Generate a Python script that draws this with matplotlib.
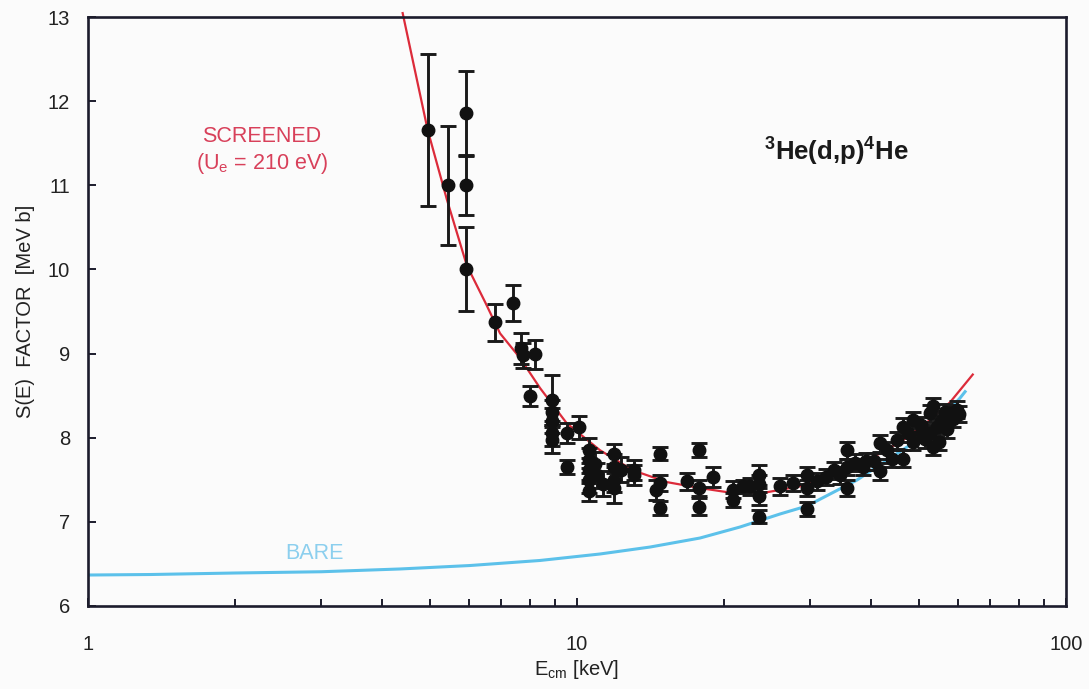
import matplotlib
matplotlib.use("Agg")
import matplotlib.pyplot as plt
from matplotlib.ticker import FixedLocator, NullFormatter

plt.rcParams['font.family'] = ['Liberation Sans', 'DejaVu Sans']

# ---- data ----
energy = [4.95, 5.44, 5.93, 5.93, 5.93, 6.80, 7.41, 7.70, 7.75, 8.21, 8.01,
          8.88, 8.88, 8.88, 8.88, 8.88, 9.53, 10.1, 9.53,
          10.6, 10.6, 10.6, 10.6, 10.6, 11.9, 11.9, 11.9, 11.9,
          13.1, 13.1, 14.5, 14.8, 14.8, 14.8, 16.8, 17.8, 17.8, 17.8,
          19.0, 20.8, 20.8, 21.8, 22.6, 23.6, 23.6, 23.6, 23.6,
          26.0, 27.7, 29.5, 29.5, 29.5, 32.3, 33.5, 35.6, 35.6, 35.6,
          38.5, 39.0, 41.6, 41.6, 44.0, 45.1, 46.4, 46.4, 48.6, 48.6,
          50.5, 52.7, 52.7, 53.5, 53.5, 55.5, 57.8, 59.8, 57.0,
          50.5, 51.5, 54.5, 56.5, 58.8, 60.5, 55.0, 47.5, 43.0, 40.5,
          37.0, 31.0, 34.5, 11.0, 11.3, 12.3, 10.9]
s_factor = [11.66, 11.00, 11.86, 11.00, 10.00, 9.37, 9.60, 9.06, 8.98, 8.99, 8.49,
            8.45, 8.30, 8.20, 8.05, 7.97, 8.05, 8.12, 7.65,
            7.85, 7.73, 7.61, 7.49, 7.37, 7.80, 7.65, 7.50, 7.40,
            7.61, 7.55, 7.38, 7.81, 7.46, 7.16, 7.48, 7.85, 7.40, 7.18,
            7.53, 7.38, 7.26, 7.42, 7.42, 7.55, 7.45, 7.30, 7.06,
            7.42, 7.46, 7.55, 7.40, 7.15, 7.53, 7.61, 7.85, 7.65, 7.40,
            7.65, 7.72, 7.93, 7.60, 7.75, 7.97, 8.13, 7.75, 8.21, 7.95,
            8.05, 8.29, 8.05, 8.37, 7.89, 8.20, 8.29, 8.33, 8.10,
            8.15, 7.98, 8.12, 8.30, 8.22, 8.28, 7.95, 8.05, 7.85, 7.72,
            7.70, 7.48, 7.55, 7.55, 7.45, 7.62, 7.68]
s_error = [0.90, 0.71, 0.50, 0.35, 0.50, 0.22, 0.21, 0.18, 0.15, 0.17, 0.12,
           0.30, 0.15, 0.15, 0.15, 0.15, 0.12, 0.14, 0.08,
           0.15, 0.15, 0.15, 0.15, 0.12, 0.12, 0.15, 0.15, 0.18,
           0.12, 0.12, 0.12, 0.08, 0.10, 0.08, 0.10, 0.08, 0.10, 0.10,
           0.12, 0.10, 0.08, 0.08, 0.10, 0.12, 0.10, 0.10, 0.08,
           0.10, 0.10, 0.10, 0.10, 0.08, 0.10, 0.10, 0.10, 0.10, 0.10,
           0.10, 0.10, 0.10, 0.10, 0.10, 0.10, 0.10, 0.10, 0.10, 0.10,
           0.10, 0.10, 0.10, 0.10, 0.10, 0.10, 0.10, 0.10, 0.10,
           0.10, 0.10, 0.10, 0.10, 0.10, 0.10, 0.10, 0.10, 0.10, 0.10,
           0.10, 0.10, 0.10, 0.15, 0.15, 0.15, 0.15]

screened_e = [4.40, 4.95, 5.42, 5.95, 6.49, 6.96, 7.64, 8.40, 9.53, 11.14, 13.02,
              15.28, 17.84, 20.85, 24.46, 28.58, 34.99, 41.65, 46.42, 52.72,
              57.92, 64.46]
screened_s = [13.05, 11.66, 10.83, 10.05, 9.61, 9.24, 8.95, 8.59, 8.17, 7.85, 7.61,
              7.47, 7.40, 7.34, 7.35, 7.42, 7.61, 7.81, 7.97, 8.21,
              8.42, 8.75]

bare_e = [1.0, 1.34, 2.0, 3.0, 4.35, 6.04, 8.40, 11.14, 14.11, 17.84, 21.54,
          26.01, 29.53, 37.37, 47.97, 55.26, 60.72, 62.17]
bare_s = [6.365, 6.371, 6.389, 6.404, 6.437, 6.478, 6.538, 6.615, 6.698, 6.805, 6.936,
          7.091, 7.186, 7.495, 7.911, 8.209, 8.471, 8.546]

x_ticks = [1, 10, 100]
x_tick_labels = ['1', '10', '100']
y_ticks = [6, 7, 8, 9, 10, 11, 12, 13]

RED = '#dc2b3a'
RED_TXT = '#d8405a'
BLUE = '#5cc1ea'
BLUE_TXT = '#8ccfee'
FRAME = '#1c1c2c'

fig = plt.figure(figsize=(10.89, 6.89), dpi=100)
fig.patch.set_facecolor('#fbfbfb')
ax = fig.add_axes([0.0808, 0.1209, 0.8981, 0.8540])
ax.set_facecolor('#fbfbfb')

ax.plot(bare_e, bare_s, color=BLUE, lw=2.2, zorder=2)
ax.plot(screened_e, screened_s, color=RED, lw=1.6, zorder=2, clip_on=False)
ax.errorbar(energy, s_factor, yerr=s_error, fmt='o', color='#111111',
            ecolor='#1a1a1a', elinewidth=2.1, capsize=6, capthick=2.1,
            markersize=9, zorder=3)

ax.set_xscale('log')
ax.set_xlim(1, 100)
ax.set_ylim(6, 13)
ax.xaxis.set_major_locator(FixedLocator(x_ticks))
ax.set_xticklabels(x_tick_labels)
ax.xaxis.set_minor_locator(FixedLocator([m * d for d in (1, 10) for m in range(2, 10)]))
ax.xaxis.set_minor_formatter(NullFormatter())
ax.set_yticks(y_ticks)

for sp in ax.spines.values():
    sp.set_color(FRAME)
    sp.set_linewidth(1.9)

ax.tick_params(axis='both', which='both', direction='in', top=False, right=False,
               color=FRAME, labelsize=14.5, labelcolor='#222222')
ax.tick_params(axis='x', which='major', length=6, width=1.4, pad=21)
ax.tick_params(axis='x', which='minor', length=5, width=1.4)
ax.tick_params(axis='y', which='major', length=6, width=1.4, pad=13)

ax.set_xlabel('E$_{\\mathregular{cm}}$ [keV]', fontsize=14.5, color='#222222', labelpad=3)
ax.set_ylabel('S(E)  FACTOR  [MeV b]', fontsize=14.5, color='#222222', labelpad=9)

ax.text(2.27, 11.58, 'SCREENED', color=RED_TXT, fontsize=15.5, ha='center', va='center')
ax.text(2.27, 11.26, '(U$_{\\mathregular{e}}$ = 210 eV)', color=RED_TXT, fontsize=15.5,
        ha='center', va='center')
ax.text(2.91, 6.62, 'BARE', color=BLUE_TXT, fontsize=15.5, ha='center', va='center')
ax.text(33.9, 11.42, '$^{\\mathregular{3}}$He(d,p)$^{\\mathregular{4}}$He', color='#1a1a1a',
        fontsize=18.5, fontweight='bold', ha='center', va='center')

fig.savefig('out.png', dpi=100, facecolor=fig.get_facecolor())
